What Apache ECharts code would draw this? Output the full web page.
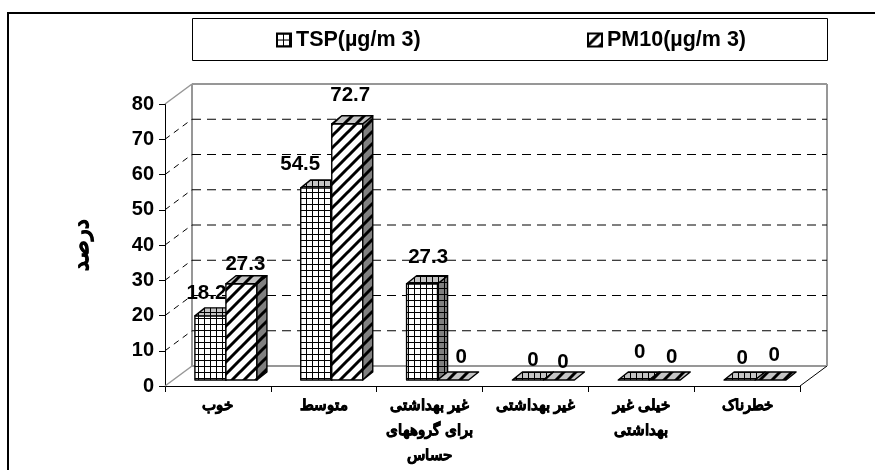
<!DOCTYPE html>
<html>
<head>
<meta charset="utf-8">
<style>html,body{margin:0;padding:0;background:#fff}#c{width:875px;height:470px}</style>
<script src="https://cdn.jsdelivr.net/npm/echarts@6/dist/echarts.min.js"></script>
</head>
<body>
<div id="c"></div>
<script>
// ---- data ----
const categories = ['خوب', 'متوسط', 'غیر بهداشتی\nبرای گروههای\nحساس', 'غیر بهداشتی', 'خیلی غیر\nبهداشتی', 'خطرناک'];
const tspValues = [18.2, 54.5, 27.3, 0, 0, 0];
const pm10Values = [27.3, 72.7, 0, 0, 0, 0];
const yTicks = [0, 10, 20, 30, 40, 50, 60, 70, 80];
const tspName = 'TSP(µg/m 3)';
const pm10Name = 'PM10(µg/m 3)';
const yName = 'درصد';

// ---- layout of the hand-placed value labels (offset from each bar's top centre) ----
const tspLabelNudge = [[-4, -23], [-16, -24], [6, -26], [5, -20], [6, -28], [2.5, -22]];
const pm10LabelNudge = [[4, -19], [3, -28], [8, -23], [4, -18], [7, -23], [3.5, -25]];

const FONT = '"Liberation Sans", Arial, sans-serif';
const WALL = {dx: 27, dy: -20};
const BAR = {dx: 8, dy: -6, depthX: 10, depthY: -8, frac: 0.293};
const GRAY = '#979797';

function tile(size, bg, draw) {
  const c = document.createElement('canvas');
  c.width = c.height = size;
  const g = c.getContext('2d');
  g.fillStyle = bg; g.fillRect(0, 0, size, size);
  g.strokeStyle = '#000';
  draw(g, size);
  return {image: c, repeat: 'repeat'};
}
function gridTile(bg) {
  return tile(6, bg, (g, s) => {
    g.lineWidth = 1;
    g.beginPath();
    g.moveTo(0.5, 0); g.lineTo(0.5, s);
    g.moveTo(0, 0.5); g.lineTo(s, 0.5);
    g.stroke();
  });
}
function stripeTile(bg) {
  return tile(12, bg, (g, s) => {
    g.lineWidth = 3;
    g.beginPath();
    g.moveTo(-2, s + 2); g.lineTo(s + 2, -2);
    g.moveTo(-2, 2); g.lineTo(2, -2);
    g.moveTo(s - 2, s + 2); g.lineTo(s + 2, s - 2);
    g.stroke();
  });
}
const fills = {
  tsp: {front: gridTile('#ffffff'), top: gridTile('#c4c4c4'), side: gridTile('#808080')},
  pm10: {front: stripeTile('#ffffff'), top: stripeTile('#c4c4c4'), side: stripeTile('#808080')}
};

function barRenderer(key, slot, nudges) {
  return function (params, api) {
    const i = api.value(0), v = api.value(1);
    const top = api.coord([i, v]);
    const base = api.coord([i, 0]);
    const w = api.size([1, 0])[0] * BAR.frac;
    const x0 = top[0] + BAR.dx + (slot === 0 ? -w : 0);
    const x1 = x0 + w;
    const yT = top[1] + BAR.dy, yB = base[1] + BAR.dy;
    const dx = BAR.depthX, dy = BAR.depthY;
    const s = {stroke: '#000', lineWidth: 1.4, lineJoin: 'round'};
    const f = fills[key];
    const children = [];
    if (v > 0) {
      children.push({type: 'polygon', shape: {points: [[x0, yT], [x1, yT], [x1, yB], [x0, yB]]},
        style: Object.assign({fill: f.front}, s)});
      children.push({type: 'polygon', shape: {points: [[x1, yT], [x1 + dx, yT + dy], [x1 + dx, yB + dy], [x1, yB]]},
        style: Object.assign({fill: f.side}, s)});
    }
    children.push({type: 'polygon', shape: {points: [[x0, yT], [x1, yT], [x1 + dx, yT + dy], [x0 + dx, yT + dy]]},
      style: Object.assign({fill: f.top}, s)});
    const n = nudges[i];
    children.push({type: 'text', z2: 10, style: {
      text: String(v), x: (x0 + x1) / 2 + n[0], y: yT + n[1],
      align: 'center', verticalAlign: 'middle',
      font: 'bold 20.5px ' + FONT, fill: '#000'
    }});
    return {type: 'group', children};
  };
}

function wallRenderer(params, api) {
  const v = api.value(0);
  const cs = params.coordSys;
  const p = api.coord([0, v]);
  const xL = cs.x, xR = cs.x + cs.width, y = p[1];
  const bx = xL + WALL.dx, ex = xR + WALL.dx, by = y + WALL.dy;
  const solid = v === yTicks[0] || v === yTicks[yTicks.length - 1];
  const children = [];
  if (solid) {
    children.push({type: 'line', shape: {x1: xL, y1: y, x2: bx, y2: by}, style: {stroke: GRAY, lineWidth: 1.5}});
    children.push({type: 'line', shape: {x1: bx, y1: by, x2: ex, y2: by}, style: {stroke: GRAY, lineWidth: 2}});
    if (v === yTicks[0]) {
      children.push({type: 'line', shape: {x1: xR, y1: y, x2: ex, y2: by}, style: {stroke: '#000', lineWidth: 1}});
      const top = api.coord([0, yTicks[yTicks.length - 1]])[1] + WALL.dy;
      children.push({type: 'line', shape: {x1: bx, y1: by, x2: bx, y2: top}, style: {stroke: GRAY, lineWidth: 2}});
      children.push({type: 'line', shape: {x1: ex, y1: by, x2: ex, y2: top}, style: {stroke: GRAY, lineWidth: 2}});
    }
  } else {
    children.push({type: 'line', shape: {x1: xL, y1: y, x2: bx, y2: by}, style: {stroke: '#000', lineWidth: 1, lineDash: [6, 5]}});
    children.push({type: 'line', shape: {x1: bx, y1: by, x2: ex, y2: by}, style: {stroke: '#000', lineWidth: 1, lineDash: [9, 6]}});
  }
  return {type: 'group', children};
}

const chart = echarts.init(document.getElementById('c'), null, {renderer: 'canvas'});
const legendBase = {
  orient: 'horizontal', top: 24, icon: 'rect', itemWidth: 14, itemHeight: 13, itemGap: 6,
  textStyle: {fontFamily: FONT, fontWeight: 'bold', fontSize: 21.5, color: '#000'},
  selectedMode: false
};
chart.setOption({
  animation: false,
  backgroundColor: '#fff',
  grid: {left: 165, right: 75, top: 104, bottom: 84, containLabel: false, outerBoundsMode: 'none'},
  legend: [
    Object.assign({data: [tspName], left: 271}, legendBase),
    Object.assign({data: [pm10Name], left: 582}, legendBase)
  ],
  graphic: [
    {type: 'polyline', silent: true, shape: {points: [[8, 470], [8, 13], [875, 13]]}, style: {stroke: '#000', lineWidth: 2, fill: null}},
    {type: 'rect', silent: true, z: -1, shape: {x: 192.5, y: 18.5, width: 635, height: 42}, style: {stroke: '#000', lineWidth: 1, fill: '#fff'}}
  ],
  xAxis: {
    type: 'category', data: categories,
    axisLine: {show: true, lineStyle: {color: '#000', width: 1}},
    axisTick: {show: true, length: 6, lineStyle: {color: '#000'}, alignWithLabel: false},
    axisLabel: {interval: 0, margin: 7, fontFamily: FONT, fontWeight: 'bold', fontSize: 15, lineHeight: 25, color: '#000', hideOverlap: false,
      textBorderColor: '#000', textBorderWidth: 0.7},
    splitLine: {show: false}
  },
  yAxis: {
    type: 'value', min: 0, max: 80, interval: 10,
    name: yName, nameLocation: 'middle', nameRotate: 90, nameGap: 72,
    nameTextStyle: {fontFamily: FONT, fontWeight: 'bold', fontSize: 22, color: '#000', textBorderColor: '#000', textBorderWidth: 0.7},
    axisLine: {show: true, lineStyle: {color: '#000', width: 1}},
    axisTick: {show: true, length: 6, lineStyle: {color: '#000'}},
    axisLabel: {margin: 11, fontFamily: FONT, fontWeight: 'bold', fontSize: 20, color: '#000'},
    splitLine: {show: false}
  },
  series: [
    {type: 'custom', name: 'wall', silent: true, z: 1, clip: false,
     data: yTicks.map(v => [v]), encode: {y: 0}, renderItem: wallRenderer},
    {type: 'custom', name: tspName, z: 2, clip: false,
     itemStyle: {color: fills.tsp.front, borderColor: '#000', borderWidth: 1},
     data: tspValues.map((v, i) => [i, v]), encode: {x: 0, y: 1},
     renderItem: barRenderer('tsp', 0, tspLabelNudge)},
    {type: 'custom', name: pm10Name, z: 3, clip: false,
     itemStyle: {color: fills.pm10.front, borderColor: '#000', borderWidth: 1},
     data: pm10Values.map((v, i) => [i, v]), encode: {x: 0, y: 1},
     renderItem: barRenderer('pm10', 1, pm10LabelNudge)}
  ]
});
</script>
</body>
</html>
